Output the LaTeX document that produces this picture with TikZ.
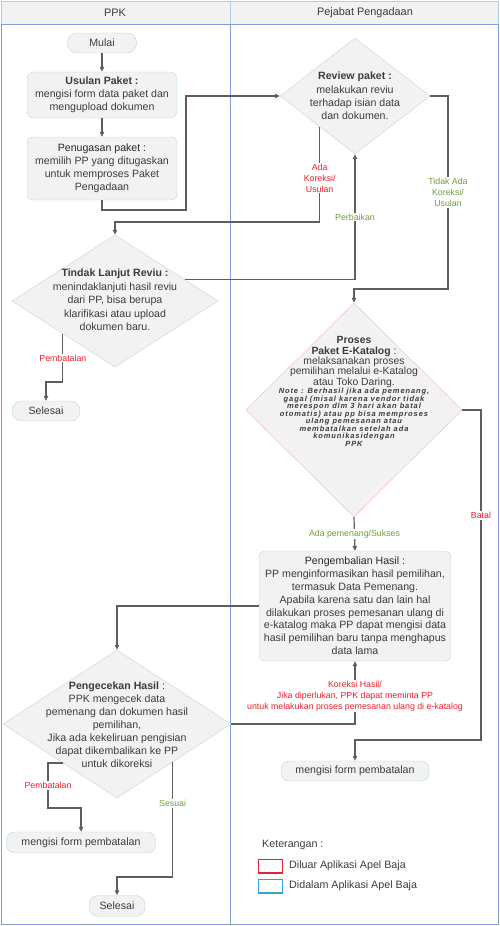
\documentclass[tikz,border=0pt]{standalone}
\usepackage{fontspec}
\setmainfont{Liberation Sans}
\usetikzlibrary{shapes.geometric,arrows.meta,calc}
\definecolor{lane}{HTML}{7F9FD6}
\definecolor{hdr}{HTML}{A6D2E4}
\definecolor{boxfill}{HTML}{F2F2F2}
\definecolor{boxline}{HTML}{B3DAE8}
\definecolor{pinkline}{HTML}{F2B8B8}
\definecolor{conncol}{HTML}{5E5E5E}
\definecolor{txt}{HTML}{3C3C3C}
\definecolor{lblred}{HTML}{E8202A}
\definecolor{lblgreen}{HTML}{6E9F3E}
\definecolor{legred}{HTML}{E0262E}
\definecolor{legblue}{HTML}{35A3D5}
\begin{document}
\begin{tikzpicture}[x=1pt,y=-1pt,
  bodyfont/.style={font=\fontsize{10.6}{13}\selectfont},
  box/.style={draw=boxline,fill=boxfill,rounded corners=6pt,align=center,text=txt,inner sep=0pt,bodyfont},
  pill/.style={draw=boxline,fill=boxfill,rounded corners=9.5pt,align=center,text=txt,inner sep=0pt,bodyfont},
  dia/.style={diamond,draw=boxline,fill=boxfill,inner sep=0pt},
  diatext/.style={align=center,text=txt,inner sep=0pt,bodyfont},
  conn/.style={draw=conncol,line width=1.2pt,-{Triangle[length=5pt,width=4.5pt]}},
  lbl/.style={fill=white,inner sep=1pt,align=center,font=\fontsize{8.8}{11}\selectfont},
  lred/.style={lbl,text=lblred},
  lgreen/.style={lbl,text=lblgreen},
  hdrtext/.style={text=txt,font=\fontsize{10.9}{12}\selectfont},
  legtext/.style={text=txt,anchor=west,inner sep=0pt,font=\fontsize{10.7}{13}\selectfont}
]
\useasboundingbox (0,0) rectangle (500,926);
% lanes
\fill[boxfill] (1,1) rectangle (498,24);
\draw[hdr,line width=1pt] (1,1) rectangle (498,24);
\draw[hdr,line width=1pt] (230,1) -- (230,24);
\draw[lane,line width=1pt] (1,24) rectangle (498,924);
\draw[lane,line width=1pt] (230,24) -- (230,924);
\node[hdrtext] (h1) at (115,12.5) {PPK};
\node[hdrtext] (h2) at (365,12.5) {Pejabat Pengadaan};

% PPK lane nodes
\node[pill,minimum width=69pt,minimum height=20pt] (mulai) at (102,43) {Mulai};
\node[box,minimum width=149pt,minimum height=46pt] (usulan) at (102,95)
  {\textbf{Usulan Paket :}\\mengisi form data paket dan\\mengupload dokumen};
\node[box,minimum width=150pt,minimum height=63pt] (pen) at (102,168.5)
  {\textcolor{black!85}{Penugasan paket :}\\memilih PP yang ditugaskan\\untuk memproses Paket\\Pengadaan};

\node[dia,minimum width=206pt,minimum height=132pt] (tl) at (115,301) {};
\node[diatext,font=\fontsize{10.6}{13.4}\selectfont] (tlt) at (115,300)
  {\textbf{Tindak Lanjut Reviu :}\\menindaklanjuti hasil reviu\\dari PP, bisa berupa\\klarifikasi atau upload\\dokumen baru.};
\node[pill,minimum width=68pt,minimum height=20pt] (sel1) at (46,411) {Selesai};

\node[dia,minimum width=228pt,minimum height=148pt] (cek) at (117,724) {};
\node[diatext] (cekt) at (117,725)
  {\textbf{Pengecekan Hasil} :\\PPK mengecek data\\pemenang dan dokumen hasil\\pemilihan,\\Jika ada kekeliruan pengisian\\dapat dikembalikan ke PP\\untuk dikoreksi};
\node[pill,rounded corners=8pt,minimum width=149pt,minimum height=21pt] (form1) at (81,842.5) {mengisi form pembatalan};
\node[pill,minimum width=56pt,minimum height=21pt] (sel2) at (117,906) {Selesai};

% Pejabat lane nodes
\node[dia,minimum width=150pt,minimum height=116pt] (rev) at (355,96) {};
\node[diatext,font=\fontsize{10.6}{13.3}\selectfont] (revt) at (355,96)
  {\textbf{Review paket :}\\melakukan reviu\\terhadap isian data\\dan dokumen.};

\node[dia,draw=pinkline,minimum width=216pt,minimum height=214pt] (pro) at (354,410) {};
\node[diatext,font=\fontsize{10.4}{10.4}\selectfont] (prot) at (354,362)
  {\textbf{Proses}\\\textbf{Paket E-Katalog} :\\melaksanakan proses\\pemilihan melalui e-Katalog\\atau Toko Daring.};
\node[diatext,font=\fontsize{7.5}{7.5}\selectfont\bfseries\itshape\addfontfeature{LetterSpace=12}] (pront) at (354,417.5)
  {Note : Berhasil jika ada pemenang,\\gagal (misal karena vendor tidak\\merespon dlm 3 hari akan batal\\otomatis) atau pp bisa memproses\\ulang pemesanan atau\\membatalkan setelah ada\\komunikasidengan\\PPK};

\node[box,minimum width=192pt,minimum height=110pt,font=\fontsize{10.6}{12.8}\selectfont] (peng) at (355,606)
  {\textcolor{black!85}{Pengembalian Hasil :}\\PP menginformasikan hasil pemilihan,\\termasuk Data Pemenang.\\Apabila karena satu dan lain hal\\dilakukan proses pemesanan ulang di\\e-katalog maka PP dapat mengisi data\\hasil pemilihan baru tanpa menghapus\\data lama};
\node[pill,rounded corners=8pt,minimum width=148pt,minimum height=20pt] (form2) at (355,771) {mengisi form pembatalan};

% legend
\node[legtext] (ket) at (262,845) {Keterangan :};
\draw[legred,line width=1.3pt] (258.5,859.5) rectangle (282.5,873);
\node[legtext] (leg1) at (289,866) {Diluar Aplikasi Apel Baja};
\draw[legblue,line width=1.3pt] (258.5,879.5) rectangle (282.5,893);
\node[legtext] (leg2) at (289,886) {Didalam Aplikasi Apel Baja};

% connectors
\draw[conn] (mulai.south) -- (usulan.north);
\draw[conn] (usulan.south) -- (pen.north);
\coordinate (b1) at (186,210);
\draw[conn] (pen.south) |- (b1) |- (rev.west);

\coordinate (revsw) at ($(rev.west)!0.53!(rev.south)$);
\coordinate (b2) at (0,222);
\draw[conn] (revsw) -- node[lred,pos=0.54]{Ada\\Koreksi/\\Usulan} (revsw |- b2) -| (tl.north);

\coordinate (tlne) at ($(tl.north)!0.68!(tl.east)$);
\draw[conn] (tlne) -| node[lgreen,pos=0.75]{Perbaikan} (rev.south);

\coordinate (b3) at (448,289);
\draw[conn] (rev.east) -| node[lgreen,pos=0.75]{Tidak Ada\\Koreksi/\\Usulan} (b3) -| (pro.north);

\coordinate (tlsw) at ($(tl.west)!0.495!(tl.south)$);
\coordinate (b4) at (0,382);
\draw[conn] (tlsw) -- node[lred]{Pembatalan} (tlsw |- b4) -| (sel1.north);

\coordinate (b5) at (481,740);
\draw[conn] (pro.east) -| node[lred,pos=0.66]{Batal} (b5) -| (form2.north);

\draw[conn] (pro.south) -- node[lgreen]{Ada pemenang/Sukses} (peng.north);

\draw[conn] (peng.west) -| (cek.north);

\draw[conn] (cek.east) -| node[lred,pos=0.72]{Koreksi Hasil/\\Jika diperlukan, PPK dapat meminta PP\\untuk melakukan proses pemesanan ulang di e-katalog} (peng.south);

\coordinate (cksw) at ($(cek.west)!0.526!(cek.south)$);
\coordinate (b6) at (48,808);
\draw[conn] (cksw) -| node[lred,pos=0.75]{Pembatalan} (b6) -| (form1.north);

\coordinate (ckse) at ($(cek.south)!0.487!(cek.east)$);
\coordinate (b7) at (0,877);
\draw[conn] (ckse) -- node[lgreen,pos=0.36]{Sesuai} (ckse |- b7) -| (sel2.north);
\end{tikzpicture}
\end{document}
